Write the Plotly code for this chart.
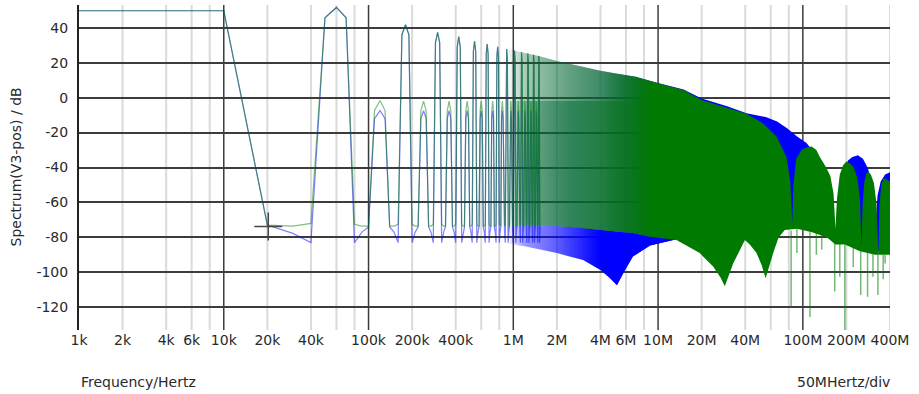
import math
import plotly.graph_objects as go

# ---------------- data ----------------
# explicit low-frequency FFT bins (Hz / dB)
lead_freq = [1e3, 10e3, 20e3, 30e3, 40e3]
lead_green_db = [49.7, 49.7, -73.0, -73.5, -72.0]
lead_blue_db = [49.7, 49.7, -73.0, -77.7, -83.0]

bin_step = 10e3
harm_freq = [60e3, 120e3, 180e3, 240e3, 300e3, 360e3, 420e3, 480e3, 540e3, 600e3,
             660e3, 720e3, 780e3, 840e3, 900e3, 960e3, 1020e3, 1080e3, 1140e3, 1200e3,
             1260e3, 1320e3, 1380e3, 1440e3, 1500e3]
harm_green_peak = [51.6, -1.7, 41.7, -2.0, 37.3, -2.0, 34.9, -2.0, 32.2, -2.0,
                   30.7, -2.0, 29.1, -2.0, 27.8, -2.0, 26.9, -2.0, 26.0, -2.0,
                   25.2, -2.0, 24.5, -2.0, 23.8]
harm_green_shoulder = [45.7, -7.4, 36.0, -7.5, 31.5, -7.5, 29.0, -7.5, 26.5, -7.5,
                       25.0, -7.5, 23.3, -7.5, 22.0, -7.5, 21.0, -7.5, 20.0, -7.5,
                       19.3, -7.5, 18.6, -7.5, 18.0]
harm_blue_peak = [51.6, -7.4, 41.7, -7.5, 37.3, -7.5, 34.9, -7.5, 32.2, -7.5,
                  30.7, -7.5, 29.1, -7.5, 27.8, -7.5, 26.9, -7.5, 26.0, -7.5,
                  25.2, -7.5, 24.5, -7.5, 23.8]
harm_blue_shoulder = [45.7, -12.0, 36.0, -12.0, 31.5, -12.0, 29.0, -12.0, 26.5, -12.0,
                      25.0, -12.0, 23.3, -12.0, 22.0, -12.0, 21.0, -12.0, 20.0, -12.0,
                      19.3, -12.0, 18.6, -12.0, 18.0]
gap_green_after_odd = [-72.5, -73.5, -73.5]
gap_blue_after_odd = [-83.0, -77.0, -74.0]
gap_green_after_even = [-73.5, -73.5, -72.5]
gap_blue_after_even = [-74.0, -77.0, -83.0]

# dense region: envelopes (Hz / dB)
green_up_freq = [0.9e6, 1.14e6, 1.5e6, 2e6, 3e6, 4e6, 5e6, 7e6, 10e6, 15e6, 20e6, 30e6,
                 40.8e6, 53e6, 65.8e6, 77e6, 82e6, 84.5e6, 86e6, 90e6, 98e6, 106e6, 115e6,
                 124e6, 131e6, 145e6, 155e6, 163e6, 168e6, 172e6, 180e6, 190e6, 200e6,
                 211e6, 225e6, 238e6, 248e6, 254e6, 259e6, 266e6, 275e6, 282e6, 295e6,
                 310e6, 322e6, 333e6, 338e6, 348e6, 360e6, 368e6, 385e6, 400e6]
green_up_db = [27.8, 26.0, 23.8, 21.0, 17.7, 15.4, 14.0, 12.0, 8.2, 4.4, -1.3, -5.8,
               -9.3, -14.7, -22.3, -33.8, -48.0, -72.0, -50.0, -35.0, -30.0, -28.4, -28.0,
               -30.0, -34.0, -40.0, -45.0, -55.0, -75.0, -58.0, -44.0, -38.5, -36.6,
               -37.5, -40.0, -46.0, -58.0, -85.0, -60.0, -48.0, -43.5, -42.4, -44.0,
               -49.0, -60.0, -90.0, -62.0, -50.0, -46.5, -46.1, -47.0, -48.0]
green_lo_freq = [0.9e6, 2e6, 4e6, 6.7e6, 8.8e6, 13.4e6, 19.4e6, 24e6, 27e6, 28.9e6, 30.5e6,
                 33e6, 39.8e6, 43e6, 47.9e6, 52e6, 55.3e6, 58.5e6, 62.4e6, 68e6, 75e6,
                 91e6, 116e6, 147e6, 168e6, 195e6, 248e6, 316e6, 400e6]
green_lo_db = [-73.0, -73.5, -75.8, -77.5, -79.6, -81.5, -89.0, -96.7, -103.0, -108.0, -103.0,
               -95.0, -81.5, -84.0, -89.0, -96.0, -103.4, -96.0, -89.0, -80.0, -75.8,
               -75.0, -77.0, -80.0, -84.0, -84.0, -88.0, -90.0, -90.0]
blue_up_freq = [0.9e6, 1.14e6, 1.5e6, 2e6, 3e6, 4e6, 5e6, 7e6, 10e6, 15e6, 20e6, 30e6,
                40.8e6, 47.9e6, 56e6, 66.4e6, 77.8e6, 91.3e6, 106e6, 118e6, 131e6, 146e6,
                158e6, 168e6, 178e6, 190e6, 205e6, 220e6, 240e6, 260e6, 280e6, 295e6,
                308e6, 318e6, 328e6, 345e6, 370e6, 400e6]
blue_up_db = [27.8, 26.0, 23.8, 21.0, 17.7, 15.4, 14.0, 12.0, 8.4, 4.6, -0.5, -5.0,
              -9.0, -9.9, -11.2, -13.7, -17.5, -22.3, -26.0, -30.9, -35.7, -41.4,
              -55.0, -78.0, -55.0, -42.0, -36.0, -34.0, -33.0, -35.0, -40.0, -46.0,
              -56.0, -72.0, -56.0, -48.0, -44.0, -42.7]
blue_lo_freq = [0.9e6, 1.2e6, 2e6, 3.04e6, 4e6, 4.6e6, 5.2e6, 5.8e6, 6.7e6, 8.8e6, 13.4e6,
                19e6, 30e6, 40e6, 55e6, 75e6, 91e6, 116e6, 147e6, 168e6, 195e6, 248e6,
                316e6, 400e6]
blue_lo_db = [-83.5, -85.0, -89.0, -93.0, -98.7, -103.0, -107.4, -100.0, -91.0, -84.6, -81.0,
              -80.0, -80.0, -79.0, -78.0, -74.0, -73.0, -75.0, -79.0, -79.5, -82.0, -86.0,
              -88.0, -88.0]
# blue-only strip below the green floor (1M .. 13M)
blue_strip_freq = [0.9e6, 1.2e6, 2e6, 3.04e6, 4e6, 4.6e6, 5.2e6, 5.8e6, 6.7e6, 8.8e6, 13.4e6]
blue_strip_top_db = [-73.0, -73.2, -73.5, -74.6, -75.8, -76.3, -76.6, -77.0, -77.5, -79.6, -81.5]
blue_strip_bot_db = [-83.5, -85.0, -89.0, -93.0, -98.7, -103.0, -107.4, -100.0, -91.0, -84.6, -81.0]
# band between the noise floor and the even-harmonic level (denser lines)
band_freq = [0.9e6, 2e6, 4e6, 6.7e6, 8.8e6, 12e6]
band_top_db = [-2.0, -2.0, -2.0, -2.0, -2.0, -2.0]
band_bot_db = [-73.0, -73.5, -75.8, -77.5, -79.6, -81.0]

# thin green dips below the green body
spike_freq = [83e6, 91e6, 112e6, 124e6, 135e6, 166e6, 180e6, 195e6, 223e6, 251e6,
              280e6, 305e6, 330e6, 359e6, 370e6]
spike_top_db = [-76, -75, -76, -77, -78, -80, -83, -84, -86, -88, -88, -89, -90, -90, -90]
spike_min_db = [-120, -89, -125.5, -90, -87, -111, -102.5, -133, -97, -113, -114,
                -102.5, -113, -104, -95]

cursor_freq = [20.3e3]
cursor_db = [-73.8]

x_tick_vals = [1e3, 2e3, 4e3, 6e3, 1e4, 2e4, 4e4, 1e5, 2e5, 4e5, 1e6, 2e6, 4e6, 6e6,
               1e7, 2e7, 4e7, 1e8, 2e8, 4e8]
x_tick_text = ["1k", "2k", "4k", "6k", "10k", "20k", "40k", "100k", "200k", "400k",
               "1M", "2M", "4M", "6M", "10M", "20M", "40M", "100M", "200M", "400M"]
y_tick_vals = [-120, -100, -80, -60, -40, -20, 0, 20, 40]
y_tick_text = ["-120", "-100", "-80", "-60", "-40", "-20", "0", "20", "40"]

# ---------------- build traces ----------------
def build(peaks, shoulders, gap_odd, gap_even, lead_db):
    fx = list(lead_freq)
    fy = list(lead_db)
    for i, f in enumerate(harm_freq):
        fx += [f - bin_step, f, f + bin_step]
        fy += [shoulders[i], peaks[i], shoulders[i]]
        gap = gap_odd if i % 2 == 0 else gap_even
        fx += [f + 2 * bin_step, f + 3 * bin_step, f + 4 * bin_step]
        fy += list(gap)
    return fx, fy

gx, gy = build(harm_green_peak, harm_green_shoulder, gap_green_after_odd, gap_green_after_even, lead_green_db)
bx, by = build(harm_blue_peak, harm_blue_shoulder, gap_blue_after_odd, gap_blue_after_even, lead_blue_db)

def poly(fu, du, fl, dl):
    return list(fu) + list(fl)[::-1] + [fu[0]], list(du) + list(dl)[::-1] + [du[0]]

def grad(fmin, fmax, stops):
    a, b = math.log10(fmin), math.log10(fmax)
    out = []
    for f, c in stops:
        out.append([max(0.0, min(1.0, (math.log10(f) - a) / (b - a))), c])
    out[0][0] = 0.0
    out[-1][0] = 1.0
    return out

def fill_trace(xs, ys, scale):
    return go.Scatter(x=xs, y=ys, mode="lines", fill="toself", line=dict(width=0),
                      fillgradient=dict(type="horizontal", colorscale=scale),
                      hoverinfo="skip", showlegend=False)

fig = go.Figure()

# blue body
px_, py_ = poly(blue_up_freq, blue_up_db, blue_lo_freq, blue_lo_db)
fig.add_trace(fill_trace(px_, py_, grad(0.9e6, 400e6, [
    (0.9e6, "rgba(0,0,255,0.0)"), (2.0e6, "rgba(0,0,255,0.18)"),
    (4.0e6, "rgba(0,0,255,0.38)"), (8.0e6, "rgba(0,0,255,0.8)"),
    (12e6, "rgba(0,0,255,1)"), (400e6, "rgba(0,0,255,1)")])))

# blue strip under the green floor
px_, py_ = poly(blue_strip_freq, blue_strip_top_db, blue_strip_freq, blue_strip_bot_db)
fig.add_trace(fill_trace(px_, py_, grad(0.9e6, 13.4e6, [
    (0.9e6, "rgba(0,0,255,0.0)"), (1.2e6, "rgba(0,0,255,0.35)"),
    (2.0e6, "rgba(0,0,255,0.55)"), (3.0e6, "rgba(0,0,255,0.8)"),
    (4.0e6, "rgba(0,0,255,1)"), (13.4e6, "rgba(0,0,255,1)")])))

fig.add_trace(go.Scatter(x=bx, y=by, mode="lines",
                         line=dict(color="rgba(0,0,255,0.5)", width=1.2),
                         hoverinfo="skip", showlegend=False))

# green body
px_, py_ = poly(green_up_freq, green_up_db, green_lo_freq, green_lo_db)
fig.add_trace(fill_trace(px_, py_, grad(0.9e6, 400e6, [
    (0.9e6, "rgba(0,128,0,0.0)"), (1.2e6, "rgba(0,128,0,0.3)"),
    (2.0e6, "rgba(0,128,0,0.45)"), (4.0e6, "rgba(0,128,0,0.6)"),
    (6.0e6, "rgba(0,125,0,0.8)"), (9.0e6, "rgba(0,122,0,1)"),
    (400e6, "rgba(0,122,0,1)")])))

# denser band below the even-harmonic level
px_, py_ = poly(band_freq, band_top_db, band_freq, band_bot_db)
fig.add_trace(fill_trace(px_, py_, grad(0.9e6, 12e6, [
    (0.9e6, "rgba(0,100,70,0.0)"), (1.3e6, "rgba(0,100,70,0.3)"),
    (2.5e6, "rgba(0,105,50,0.5)"), (5.0e6, "rgba(0,115,20,0.45)"),
    (9.0e6, "rgba(0,122,0,0.15)"), (12e6, "rgba(0,122,0,0.0)")])))

fig.add_trace(go.Scatter(x=gx, y=gy, mode="lines",
                         line=dict(color="rgba(0,128,0,0.5)", width=1.2),
                         hoverinfo="skip", showlegend=False))

sx, sy = [], []
for f, t, m in zip(spike_freq, spike_top_db, spike_min_db):
    sx += [f, f, None]
    sy += [t, m, None]
fig.add_trace(go.Scatter(x=sx, y=sy, mode="lines",
                         line=dict(color="rgba(0,128,0,0.55)", width=1.5),
                         hoverinfo="skip", showlegend=False))

fig.add_trace(go.Scatter(x=cursor_freq, y=cursor_db, mode="markers",
                         marker=dict(symbol="cross-thin", size=20,
                                     line=dict(width=1.5, color="#444")),
                         hoverinfo="skip", showlegend=False))

# vertical grid lines as shapes
shapes = []
for d in [1e3, 1e4, 1e5, 1e6, 1e7, 1e8]:
    for m in [2, 4, 6, 8]:
        v = d * m
        if v <= 4e8:
            shapes.append(dict(type="line", xref="x", yref="paper", x0=v, x1=v, y0=0, y1=1,
                               line=dict(color="#dadada", width=2), layer="below"))
for d in [1e4, 1e5, 1e6, 1e7, 1e8]:
    shapes.append(dict(type="line", xref="x", yref="paper", x0=d, x1=d, y0=0, y1=1,
                       line=dict(color="#3c3c3c", width=1.5), layer="below"))

font = dict(family="DejaVu Sans", size=14, color="#2a2a2a")
fig.update_layout(
    width=919, height=394,
    margin=dict(l=79, r=29, t=5, b=64, autoexpand=False),
    paper_bgcolor="white", plot_bgcolor="white",
    font=font, shapes=shapes,
    xaxis=dict(type="log", range=[3, math.log10(4e8)], tickmode="array",
               tickvals=x_tick_vals, ticktext=x_tick_text, showgrid=False,
               zeroline=False, showline=False, ticks="",
               tickfont=font, automargin=False),
    yaxis=dict(range=[-133, 53], tickmode="array", tickvals=y_tick_vals,
               ticktext=y_tick_text,
               showgrid=True, gridcolor="#3c3c3c", gridwidth=1.5, zeroline=False,
               showline=True, linecolor="#222", linewidth=2, ticks="outside",
               ticklen=6, tickcolor="rgba(0,0,0,0)", tickfont=font, automargin=False),
    annotations=[
        dict(text="Spectrum(V3-pos) / dB", xref="paper", yref="paper",
             x=(15 - 79) / 811, y=0.5, textangle=-90, showarrow=False,
             xanchor="center", yanchor="middle", font=font),
        dict(text="Frequency/Hertz", xref="paper", yref="paper", x=0.0, y=-(382 - 330) / 325,
             showarrow=False, xanchor="left", yanchor="middle", font=font),
        dict(text="50MHertz/div", xref="paper", yref="paper", x=(795 - 79) / 811,
             y=-(382 - 330) / 325, showarrow=False, xanchor="left", yanchor="middle", font=font),
    ],
)

fig.write_html("out.html", config={"displayModeBar": False},
               post_script="document.body.style.margin='0';document.body.style.overflow='hidden';")
